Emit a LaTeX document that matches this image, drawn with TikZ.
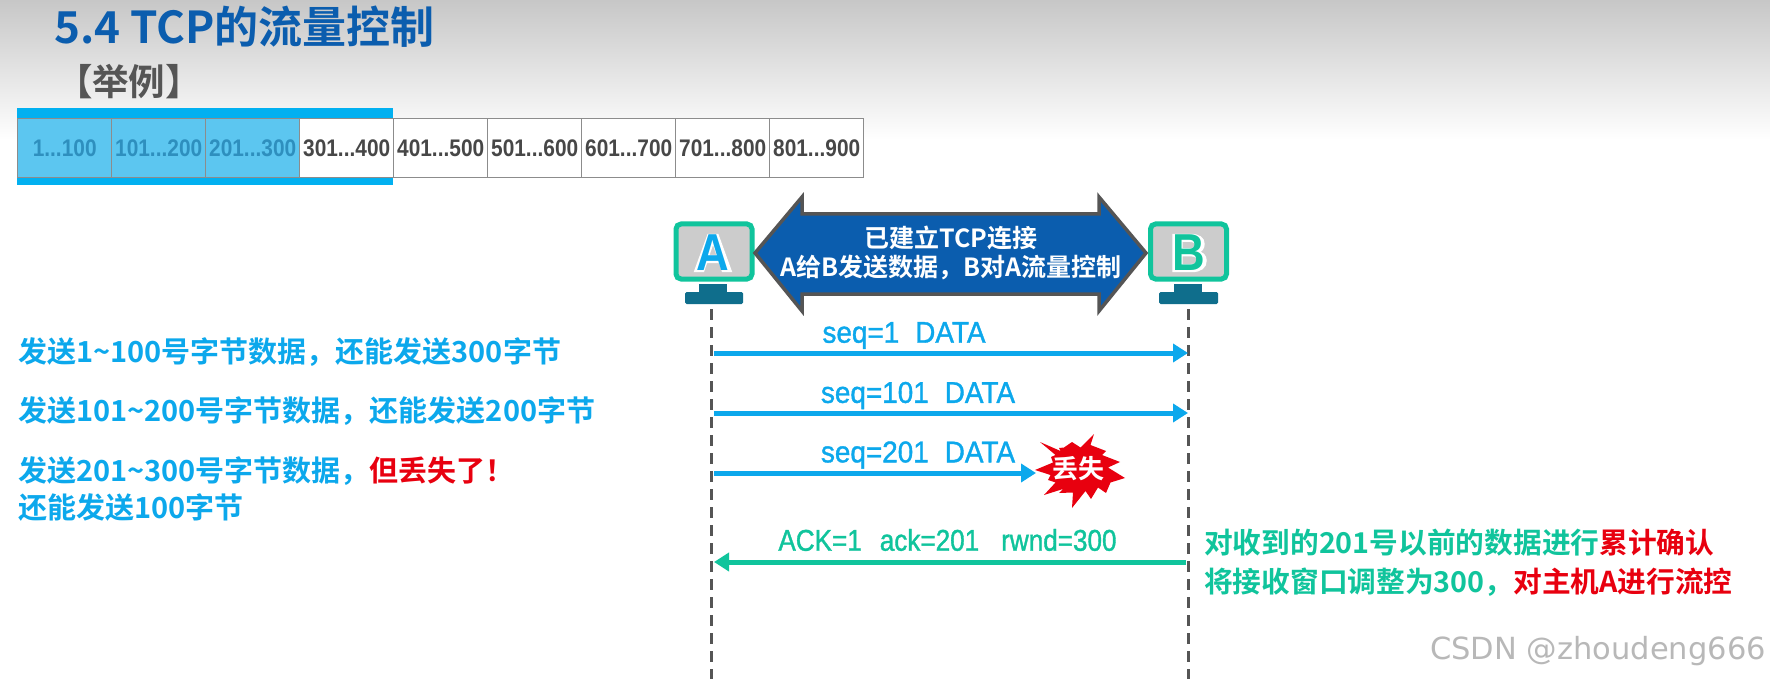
\documentclass[tikz,border=0pt]{standalone}
\usepackage{fontspec}
\usetikzlibrary{arrows.meta,shadings}
\newfontfamily\zhb{Noto Sans CJK SC Bold}
\newfontfamily\latb[FakeStretch=0.87]{Liberation Sans Bold}
\newfontfamily\latr[FakeStretch=0.93,FakeBold=1.2]{Liberation Sans}
\newfontfamily\latg[FakeStretch=0.87,FakeBold=1.2]{Liberation Sans}
\newfontfamily\halo[FakeBold=5]{Liberation Sans Bold}
\newcommand{\fs}[1]{\fontsize{#1}{#1}\selectfont}
\definecolor{skyb}{HTML}{0CA8EC}
\definecolor{band}{HTML}{02B0F0}
\definecolor{cellb}{HTML}{5CC6F0}
\definecolor{celltx}{HTML}{2E8FBE}
\definecolor{mint}{HTML}{10C49C}
\definecolor{redx}{HTML}{E8000F}
\definecolor{navy}{HTML}{0B5DAE}
\definecolor{stand}{HTML}{0F6E8C}
\definecolor{grayl}{HTML}{555555}
\tikzset{
  cellbox/.style={draw=gray!90,line width=1.4pt,minimum width=94pt,minimum height=59pt,inner sep=0pt,
    font=\latb\fs{24},text=black!72,anchor=north west},
  bluecell/.style={cellbox,fill=cellb,text=celltx},
  freecell/.style={cellbox,fill=white},
  hostbox/.style={draw=mint,fill=black!20,line width=5pt,rounded corners=5pt,minimum width=76pt,minimum height=55pt,inner sep=0pt},
  lifeline/.style={draw=grayl,line width=3pt,dash pattern=on 11pt off 7pt},
  msgblue/.style={draw=skyb,line width=5pt,-{Triangle[length=15pt,width=18pt]}},
  msggreen/.style={draw=mint,line width=5pt,-{Triangle[length=15pt,width=18pt]}},
  lblblue/.style={text=skyb,font=\latr\fs{30},inner sep=0pt},
  lblgreen/.style={text=mint,font=\latg\fs{30},inner sep=0pt},
  notes/.style={font=\zhb\fs{29},text=skyb,anchor=west,inner sep=0pt},
  notesg/.style={font=\zhb\fs{28.7},text=mint,anchor=west,inner sep=0pt},
  whitetext/.style={font=\zhb\fs{25},text=white,inner sep=0pt},
}
\begin{document}
\begin{tikzpicture}[x=1pt,y=-1pt]
\useasboundingbox (0,0) rectangle (1770,679);
\fill[white] (0,0) rectangle (1770,679);
\shade[top color=black!22,bottom color=white] (0,0) rectangle (1770,140);

% title
\node[anchor=west,inner sep=0pt,text=navy,font=\zhb\fs{44}] (title) at (54,27) {5.4 TCP的流量控制};
\node[inner sep=0pt,text=grayl,font=\zhb\fs{36.5}] (sub) at (129,82) {【举例】};

% byte window
\fill[band] (17,108) rectangle (393,185);
\node[bluecell] (c1) at (17,118) {1...100};
\node[bluecell] (c2) at (111,118) {101...200};
\node[bluecell] (c3) at (205,118) {201...300};
\node[freecell] (c4) at (299,118) {301...400};
\node[freecell] (c5) at (393,118) {401...500};
\node[freecell] (c6) at (487,118) {501...600};
\node[freecell] (c7) at (581,118) {601...700};
\node[freecell] (c8) at (675,118) {701...800};
\node[freecell] (c9) at (769,118) {801...900};

% hosts
\fill[stand] (699,284) rectangle (727,293);
\fill[stand,rounded corners=1.5pt] (685,292) rectangle (743,304);
\fill[stand] (1174,284) rectangle (1202,293);
\fill[stand,rounded corners=1.5pt] (1159,292) rectangle (1218,304);
\node[hostbox] (A) at (714,251.5) {};
\node[hostbox] (B) at (1188.5,251.5) {};
\node[inner sep=0pt,text=white,font=\halo\fs{52}] (Ah) at (713,253) {A};
\node[inner sep=0pt,text=skyb,font=\latb\fs{52}] (At) at (713,253) {A};
\node[inner sep=0pt,text=white,font=\halo\fs{52}] (Bh) at (1189,253) {B};
\node[inner sep=0pt,text=mint,font=\latb\fs{52}] (Bt) at (1189,253) {B};

% connection arrow
\fill[black!30] (935,294) arc[start angle=180,end angle=0,x radius=17,y radius=-6] -- cycle;
\filldraw[fill=navy,draw=grayl,line width=3.5pt,line join=miter]
  (755,253) -- (802,197) -- (802,214) -- (1099,214) -- (1099,197) -- (1146,253)
  -- (1099,311) -- (1099,294) -- (802,294) -- (802,311) -- cycle;
\node[whitetext] (conn1) at (951,238) {已建立TCP连接};
\node[whitetext] (conn2) at (951,268) {A给B发送数据，B对A流量控制};

% lifelines
\coordinate (a0) at (711,309);
\coordinate (a9) at (711,679);
\coordinate (b0) at (1188,309);
\coordinate (b9) at (1188,679);
\path[lifeline] (a0) -- (a9);
\path[lifeline] (b0) -- (b9);

% messages
\coordinate (a1) at (714,353); \coordinate (b1) at (1188,353);
\coordinate (a2) at (714,413); \coordinate (b2) at (1188,413);
\coordinate (a3) at (714,473);
\coordinate (b4) at (1186,562); \coordinate (a4) at (714,562);
\path[msgblue] (a1) -- (b1);
\path[msgblue] (a2) -- (b2);
\node[lblblue] (m1) at (904,335.5) {seq=1\hspace{16pt}DATA};
\node[lblblue] (m2) at (918,395.5) {seq=101\hspace{16pt}DATA};
\node[lblblue] (m3) at (918,455) {seq=201\hspace{16pt}DATA};

% lost
\coordinate (lost) at (1036,473);
\path[msgblue] (a3) -- (lost);
\fill[redx]
 (1094,434)--(1090.5,445)--(1106,451)--(1102,455)--(1120,462)--(1108,467.5)--(1125,478)--(1110.5,482.5)
 --(1106,493)--(1098,487.5)--(1091,499)--(1085.5,491)--(1072,508)--(1073,492.5)--(1059,493)--(1063,489)
 --(1044,495)--(1055.5,482.5)--(1048,480)--(1050.5,475)--(1035,470)--(1053,462.5)--(1051,457)--(1055.5,455)
 --(1040,442)--(1060.5,451)--(1059,448)--(1064,447.5)--(1072,442)--(1080.5,447.5)--cycle;
\node[inner sep=0pt,text=white,font=\zhb\fs{26}] (lostt) at (1078,469) {丢失};

% ack
\path[msggreen] (b4) -- (a4);
\node[lblgreen] (m4) at (947.5,540) {ACK=1\hspace{18pt}ack=201\hspace{22pt}rwnd=300};

% left notes
\node[notes] (n1) at (18,352) {发送1\textasciitilde{}100号字节数据，还能发送300字节};
\node[notes] (n2) at (18,411) {发送101\textasciitilde{}200号字节数据，还能发送200字节};
\node[notes] (n3) at (18,471) {发送201\textasciitilde{}300号字节数据，\textcolor{redx}{但丢失了！}};
\node[notes] (n4) at (18,508) {还能发送100字节};

% right notes
\node[notesg] (r1) at (1204,543) {对收到的201号以前的数据进行\textcolor{redx}{累计确认}};
\node[notesg] (r2) at (1204,582) {将接收窗口调整为300，\textcolor{redx}{对主机A进行流控}};

% watermark
\node[anchor=east,inner sep=0pt,text=black!28,font=\fontspec{DejaVu Sans}\fs{30.5}] (wm) at (1766,651) {CSDN @zhoudeng666};
\end{tikzpicture}
\end{document}
